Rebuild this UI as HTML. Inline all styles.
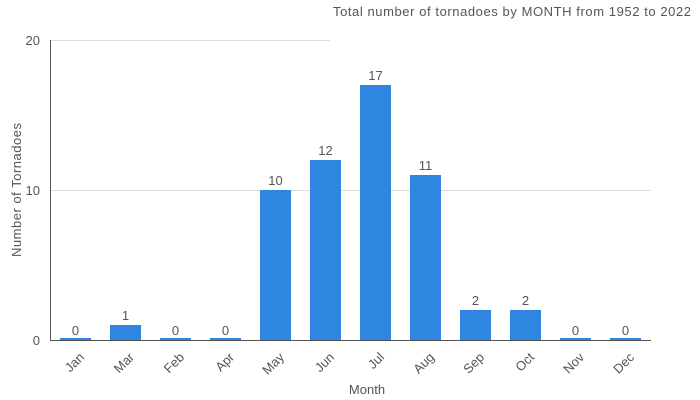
<!DOCTYPE html>
<html><head><meta charset="utf-8"><style>body{margin:0;background:#fff}svg{display:block}text{font-family:"Liberation Sans",sans-serif;fill:#555}</style></head><body>
<svg width="700" height="400" xmlns="http://www.w3.org/2000/svg">
<line x1="50" y1="40.5" x2="651" y2="40.5" stroke="#ddd"/>
<line x1="50" y1="190.5" x2="651" y2="190.5" stroke="#ddd"/>
<rect x="330" y="0" width="370" height="45" fill="#fff"/>
<text x="333" y="16" font-size="13" textLength="358" lengthAdjust="spacing">Total number of tornadoes by MONTH from 1952 to 2022</text>
<g font-size="13" text-anchor="end"><text x="40" y="45">20</text><text x="40" y="195">10</text><text x="40" y="345">0</text></g>
<text transform="translate(21,190) rotate(-90)" font-size="13" text-anchor="middle" textLength="134" lengthAdjust="spacing">Number of Tornadoes</text>
<g fill="#2e86de">
<rect x="60" y="338" width="31" height="2"/><rect x="110" y="325" width="31" height="15"/><rect x="160" y="338" width="31" height="2"/><rect x="210" y="338" width="31" height="2"/><rect x="260" y="190" width="31" height="150"/><rect x="310" y="160" width="31" height="180"/><rect x="360" y="85" width="31" height="255"/><rect x="410" y="175" width="31" height="165"/><rect x="460" y="310" width="31" height="30"/><rect x="510" y="310" width="31" height="30"/><rect x="560" y="338" width="31" height="2"/><rect x="610" y="338" width="31" height="2"/>
</g>
<g font-size="13" text-anchor="middle">
<text x="75.5" y="335">0</text><text x="125.5" y="320">1</text><text x="175.5" y="335">0</text><text x="225.5" y="335">0</text><text x="275.5" y="185">10</text><text x="325.5" y="155">12</text><text x="375.5" y="80">17</text><text x="425.5" y="170">11</text><text x="475.5" y="305">2</text><text x="525.5" y="305">2</text><text x="575.5" y="335">0</text><text x="625.5" y="335">0</text>
</g>
<line x1="50.5" y1="40" x2="50.5" y2="340" stroke="#555"/>
<line x1="50" y1="340.5" x2="651" y2="340.5" stroke="#555"/>
<g font-size="13" text-anchor="end">
<text transform="translate(85,358) rotate(-45)">Jan</text><text transform="translate(135,358) rotate(-45)">Mar</text><text transform="translate(185,358) rotate(-45)">Feb</text><text transform="translate(235,358) rotate(-45)">Apr</text><text transform="translate(285,358) rotate(-45)">May</text><text transform="translate(335,358) rotate(-45)">Jun</text><text transform="translate(385,358) rotate(-45)">Jul</text><text transform="translate(435,358) rotate(-45)">Aug</text><text transform="translate(485,358) rotate(-45)">Sep</text><text transform="translate(535,358) rotate(-45)">Oct</text><text transform="translate(585,358) rotate(-45)">Nov</text><text transform="translate(635,358) rotate(-45)">Dec</text>
</g>
<text x="367" y="394" font-size="13" text-anchor="middle">Month</text>
</svg>
</body></html>
